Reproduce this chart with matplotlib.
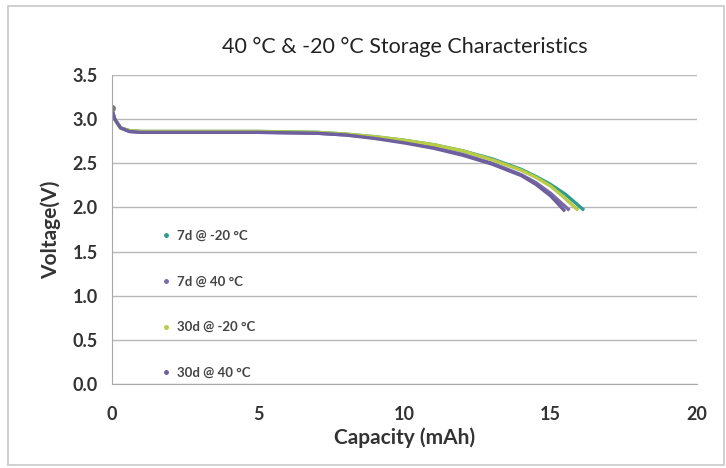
import matplotlib.pyplot as plt

plt.rcParams['font.family'] = ['Lato', 'DejaVu Sans']

labels = ['7d @ -20 °C', '7d @ 40 °C', '30d @ -20 °C', '30d @ 40 °C']
colors = ['#2e9c8c', '#7a6aa8', '#b8cc45', '#6e5f9e']

cap_a = [0, 0.1, 0.3, 0.6, 1, 3, 5, 7, 8, 9, 10, 11, 12, 13, 14, 14.5, 15, 15.5, 16.1]
volt_a = [3.1, 3.0, 2.9, 2.87, 2.86, 2.86, 2.86, 2.85, 2.83, 2.8, 2.76, 2.71, 2.64, 2.55, 2.43, 2.35, 2.26, 2.15, 1.98]

cap_b = [0, 0.1, 0.3, 0.6, 1, 3, 5, 7, 8, 9, 10, 11, 12, 13, 14, 14.5, 15, 15.3, 15.6]
volt_b = [3.1, 3.0, 2.9, 2.86, 2.85, 2.85, 2.85, 2.84, 2.82, 2.79, 2.74, 2.68, 2.6, 2.5, 2.37, 2.28, 2.16, 2.07, 1.98]

cap_c = [0, 0.1, 0.3, 0.6, 1, 3, 5, 7, 8, 9, 10, 11, 12, 13, 14, 14.5, 15, 15.4, 15.9]
volt_c = [3.1, 3.0, 2.9, 2.87, 2.86, 2.86, 2.86, 2.85, 2.83, 2.8, 2.76, 2.71, 2.64, 2.54, 2.42, 2.34, 2.24, 2.13, 1.98]

cap_d = [0, 0.1, 0.3, 0.6, 1, 3, 5, 7, 8, 9, 10, 11, 12, 13, 14, 14.5, 15, 15.2, 15.45]
volt_d = [3.12, 3.0, 2.9, 2.86, 2.85, 2.85, 2.85, 2.84, 2.82, 2.78, 2.73, 2.67, 2.59, 2.49, 2.36, 2.26, 2.13, 2.06, 1.97]

caps = [cap_a, cap_b, cap_c, cap_d]
volts = [volt_a, volt_b, volt_c, volt_d]

fig = plt.figure(figsize=(7.26, 4.68), dpi=100)
ax = fig.add_axes([0.154, 0.179, 0.806, 0.661])

for x, y, c, lab in zip(caps, volts, colors, labels):
    ax.plot(x, y, color=c, lw=2.4, label=lab)
ax.plot([cap_d[0]], [volt_d[0]], 'o', color='#7a7a7a', ms=4)

ax.set_xlim(0, 20)
ax.set_ylim(0, 3.5)
ax.set_xticks([0, 5, 10, 15, 20])
ax.set_yticks([0, 0.5, 1, 1.5, 2, 2.5, 3, 3.5])
ax.set_yticklabels(['0.0', '0.5', '1.0', '1.5', '2.0', '2.5', '3.0', '3.5'])
ax.grid(axis='y', color='#b8b8b8', lw=1)
ax.set_axisbelow(True)
for s in ['top', 'right']:
    ax.spines[s].set_visible(False)
for s in ['left', 'bottom']:
    ax.spines[s].set_color('#a8a8a8')
ax.tick_params(length=0, labelsize=13, pad=10)
for t in ax.get_xticklabels() + ax.get_yticklabels():
    t.set_fontweight('bold')
    t.set_color('#333333')
ax.tick_params(axis='x', pad=16)

ax.set_title('40 °C & -20 °C Storage Characteristics', fontsize=15.5, pad=16, color='#222222')
ax.set_xlabel('Capacity (mAh)', fontsize=15, fontweight='bold', color='#333333', labelpad=3)
ax.set_ylabel('Voltage(V)', fontsize=15, fontweight='bold', color='#333333', labelpad=8)

handles = [plt.Line2D([], [], ls='', marker='o', ms=2.5, color=c) for c in colors]
leg = ax.legend(handles, labels, loc='upper left', bbox_to_anchor=(0.066, 0.537), frameon=False,
                labelspacing=2.55, handlelength=0.6, handletextpad=0.5,
                prop={'weight': 'bold', 'size': 9.5})
for t in leg.get_texts():
    t.set_color('#444444')

fig.patches.append(plt.Rectangle((0.011, 0.006), 0.986, 0.982, transform=fig.transFigure,
                                 fill=False, ec='#c8c8c8', lw=1.2))

fig.savefig('out.png', dpi=100)
